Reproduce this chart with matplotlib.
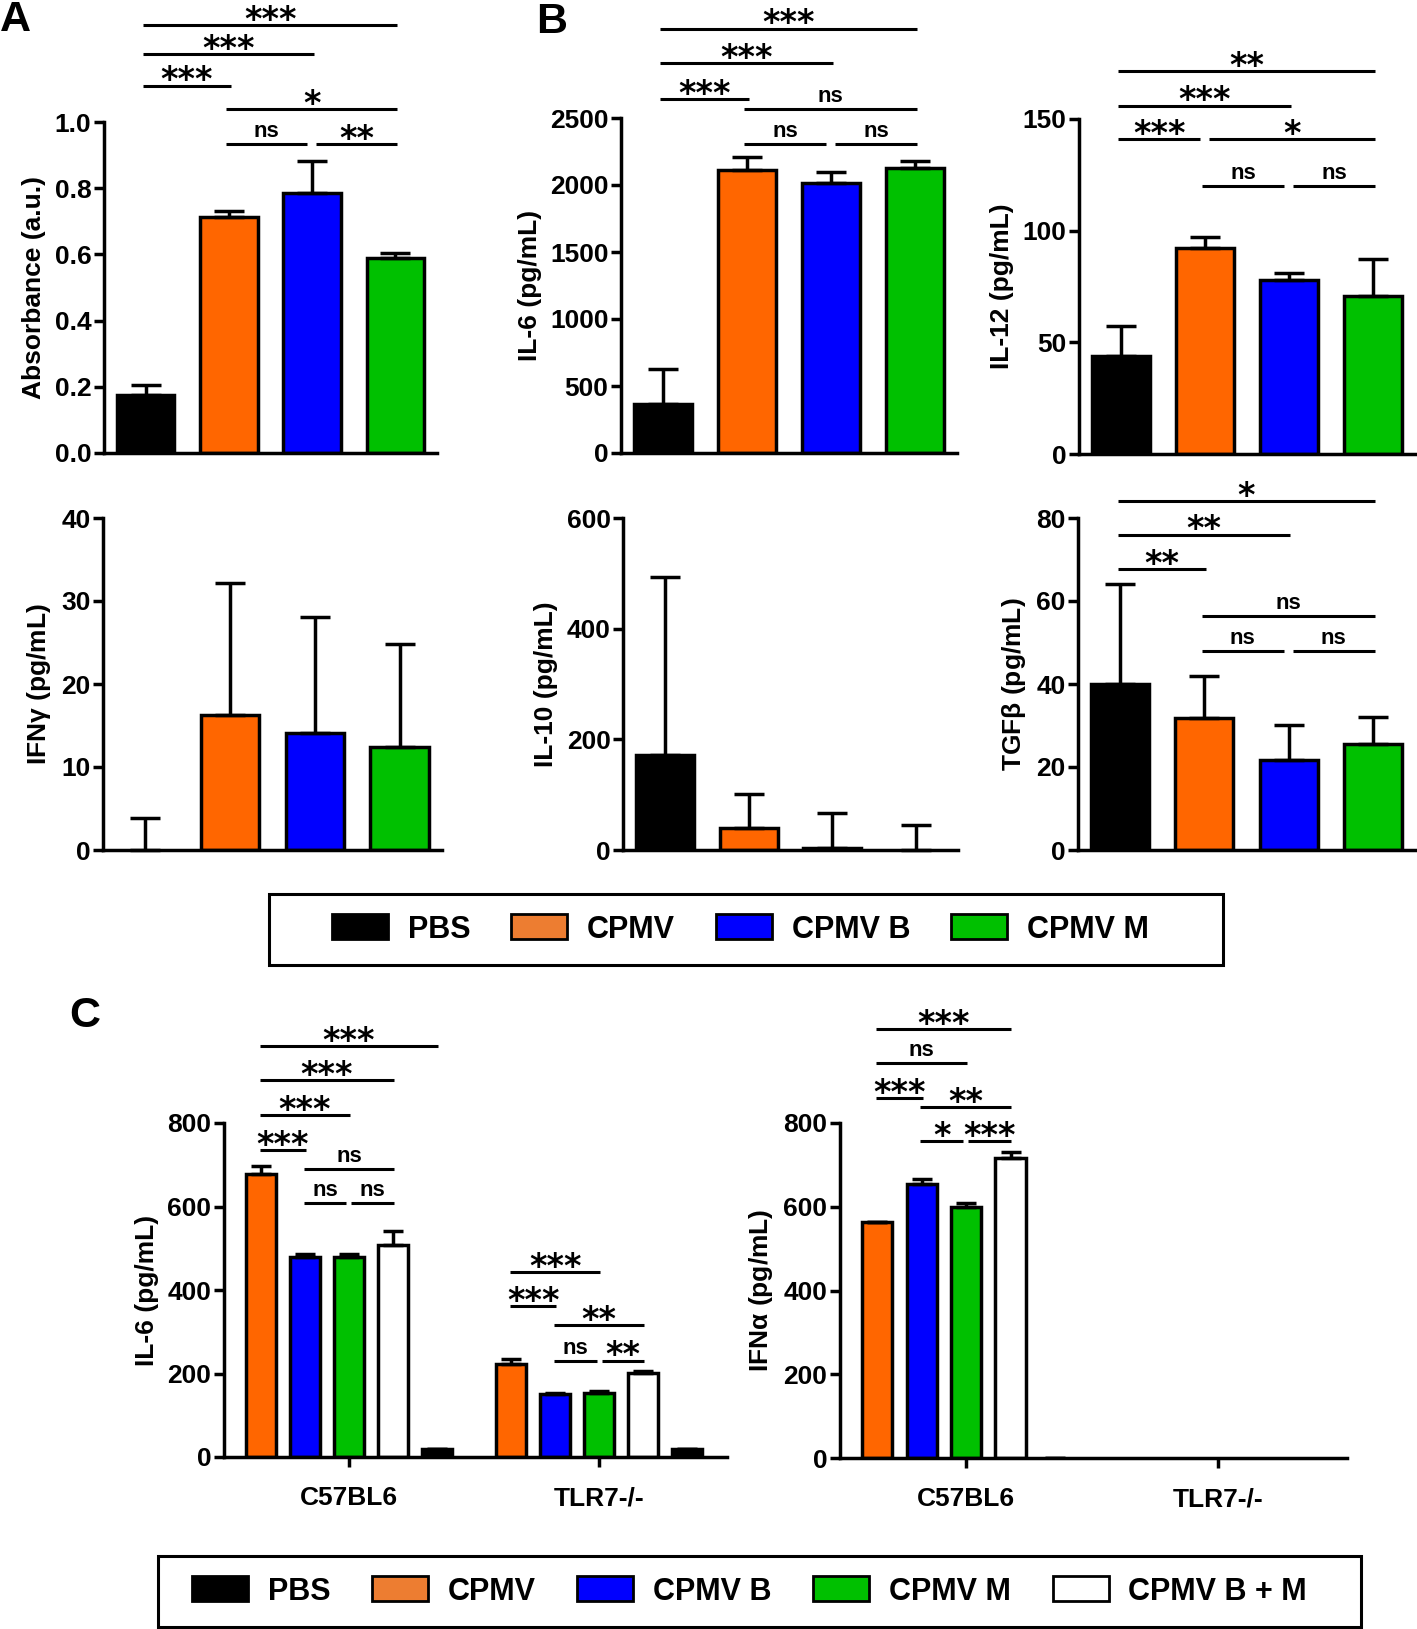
import numpy as np
import matplotlib
matplotlib.use("Agg")
from matplotlib import pyplot as plt
from matplotlib.patches import Patch, Rectangle

plt.rcParams["font.family"] = ["Liberation Sans", "DejaVu Sans"]
plt.rcParams["font.weight"] = "bold"
plt.rcParams["axes.labelweight"] = "bold"
plt.rcParams["mathtext.fontset"] = "custom"
plt.rcParams["mathtext.rm"] = "Liberation Sans"

W, H = 1417, 1629

# groups and colours
groups = ["PBS", "CPMV", "CPMV B", "CPMV M"]
bar_colors = ["#000000", "#FF6600", "#0000FF", "#00C000"]
legend_colors = ["#000000", "#ED7D31", "#0000FF", "#00C000", "#FFFFFF"]
groups_c = ["CPMV", "CPMV B", "CPMV M", "CPMV B + M", "PBS"]
colors_c = ["#FF6600", "#0000FF", "#00C000", "#FFFFFF", "#000000"]
mice = ["C57BL6", "TLR7-/-"]

# panel A
absorbance = [0.174, 0.714, 0.786, 0.588]
absorbance_err = [0.030, 0.018, 0.097, 0.016]
# panel B
il6 = [368, 2114, 2015, 2127]
il6_err = [261, 95, 82, 55]
il12 = [43.7, 92.2, 77.8, 70.6]
il12_err = [13.8, 5.0, 3.2, 16.7]
ifng = [0.0, 16.3, 14.1, 12.4]
ifng_err = [3.9, 15.9, 14.0, 12.4]
il10 = [171, 40, 4, 0]
il10_err = [322, 61, 63, 45]
tgfb = [39.9, 31.7, 21.7, 25.5]
tgfb_err = [24.2, 10.2, 8.4, 6.6]
# panel C (rows: C57BL6, TLR7-/-; columns follow groups_c)
il6_c = [[678, 478, 478, 508, 18], [223, 151, 153, 201, 18]]
il6_c_err = [[18, 8, 8, 33, 1], [12, 2, 4, 4, 1]]
ifna_c = [[563, 654, 600, 716, 0], [0, 0, 0, 0, 0]]
ifna_c_err = [[1, 12, 9, 14, 0], [0, 0, 0, 0, 0]]

# significance brackets: (bar i, bar j, height, label)
sig_absorbance = [(0, 3, 1.294, "***"), (0, 2, 1.205, "***"), (0, 1, 1.110, "***"),
                  (1, 3, 1.039, "*"), (1, 2, 0.934, "ns"), (2, 3, 0.934, "**")]
sig_il6 = [(0, 3, 3167, "***"), (0, 2, 2910, "***"), (0, 1, 2644, "***"),
           (1, 3, 2567, "ns"), (1, 2, 2306, "ns"), (2, 3, 2306, "ns")]
sig_il12 = [(0, 3, 171.6, "**"), (0, 2, 156.0, "***"), (0, 1, 141.0, "***"),
            (1, 3, 141.0, "*"), (1, 2, 119.9, "ns"), (2, 3, 119.9, "ns")]
sig_tgfb = [(0, 3, 84.1, "*"), (0, 2, 76.0, "**"), (0, 1, 67.7, "**"),
            (1, 3, 56.4, "ns"), (1, 2, 48.0, "ns"), (2, 3, 48.0, "ns")]
sig_il6_wt = [(0, 4, 984, "***"), (0, 3, 902, "***"), (0, 2, 818, "***"), (0, 1, 736, "***"),
              (1, 3, 690, "ns"), (1, 2, 608, "ns"), (2, 3, 608, "ns")]
sig_il6_ko = [(0, 2, 442, "***"), (0, 1, 361, "***"), (1, 3, 315, "**"),
              (1, 2, 231, "ns"), (2, 3, 231, "**")]
sig_ifna_wt = [(0, 3, 1025, "***"), (0, 2, 943, "ns"), (0, 1, 860, "***"),
               (1, 3, 838, "**"), (1, 2, 756, "*"), (2, 3, 756, "***")]

LW = 2.5


def add_axes(x0, y0, x1, y1):
    # pixel box of the plotting area -> figure fraction
    return fig.add_axes([x0 / W, 1 - y1 / H, (x1 - x0) / W, (y1 - y0) / H])


def style_axes(ax):
    ax.spines[["top", "right"]].set_visible(False)
    for s in ["left", "bottom"]:
        ax.spines[s].set_linewidth(LW)
    ax.tick_params(axis="y", direction="out", length=7, width=LW, labelsize=19, pad=2)
    ax.tick_params(axis="x", direction="out", length=7, width=LW, labelsize=19, pad=14)


def brackets(ax, xs, rows, unit):
    for i, j, y, label in rows:
        shared_start = any(r[1] == i and r[2] == y for r in rows)
        shared_end = any(r[0] == j and r[2] == y for r in rows)
        x0 = xs[i] + (0.05 if shared_start else -0.03) * unit
        x1 = xs[j] + (-0.06 if shared_end else 0.02) * unit
        ax.plot([x0, x1], [y, y], color="k", lw=2.2, clip_on=False,
                solid_capstyle="butt")
        if label == "ns":
            ax.annotate(label, ((x0 + x1) / 2, y), xytext=(0, 5),
                        textcoords="offset points", ha="center", va="baseline",
                        fontsize=16, fontweight="bold", annotation_clip=False)
        else:
            ax.annotate(label, ((x0 + x1) / 2, y), xytext=(0, -3.5),
                        textcoords="offset points", ha="center", va="baseline",
                        fontsize=24, fontweight="bold", family="DejaVu Sans",
                        annotation_clip=False)


def edge_widths(values):
    # bars of zero height get no outline
    return [LW if v > 0 else 0 for v in values]


def bar_panel(ax, values, errs, ylabel, ymax, ystep, sig=None, fmt="{:.0f}"):
    x = np.arange(len(values))
    ax.bar(x, values, width=0.69, color=bar_colors, edgecolor="k",
           linewidth=edge_widths(values), zorder=2)
    ax.errorbar(x, values, yerr=[np.zeros(len(errs)), errs], fmt="none", ecolor="k",
                elinewidth=LW, capsize=11, capthick=LW, zorder=3, clip_on=False)
    if sig:
        brackets(ax, x, sig, 1.0)
    style_axes(ax)
    ax.set_xticks([])
    ticks = np.arange(0, ymax + ystep / 2, ystep)
    ax.set_yticks(ticks)
    ax.set_yticklabels([fmt.format(t) for t in ticks])
    ax.set_xlim(-0.5, 3.5)
    ax.set_ylim(0, ymax)
    ax.set_ylabel(ylabel, fontsize=19, labelpad=6)


def grouped_panel(ax, values, errs, ylabel, sigs):
    offsets = (np.arange(5) - 2) * 0.176
    for g in range(len(mice)):
        xs = g + offsets
        if max(values[g]) > 0:
            ax.bar(xs, values[g], width=0.12, color=colors_c, edgecolor="k",
                   linewidth=edge_widths(values[g]), zorder=2)
            ax.errorbar(xs, values[g], yerr=[np.zeros(5), errs[g]], fmt="none",
                        ecolor="k", elinewidth=LW, capsize=7.5, capthick=LW, zorder=3)
        if sigs[g]:
            brackets(ax, xs, sigs[g], 0.176)
    style_axes(ax)
    ax.set_xticks(range(len(mice)))
    ax.set_xticklabels(mice)
    ax.set_yticks(np.arange(0, 801, 200))
    ax.set_xlim(-0.5, 1.51)
    ax.set_ylim(0, 800)
    ax.set_ylabel(ylabel, fontsize=19, labelpad=6)


fig = plt.figure(figsize=(W / 100, H / 100), dpi=100)

ax = add_axes(104, 122, 437, 453)
bar_panel(ax, absorbance, absorbance_err, "Absorbance (a.u.)", 1.0, 0.2, sig_absorbance, "{:.1f}")
ax = add_axes(621, 118, 957, 453)
bar_panel(ax, il6, il6_err, "IL-6 (pg/mL)", 2500, 500, sig_il6)
ax = add_axes(1079, 119, 1415, 454)
bar_panel(ax, il12, il12_err, "IL-12 (pg/mL)", 150, 50, sig_il12)
ax = add_axes(103, 518, 442, 850)
bar_panel(ax, ifng, ifng_err, r"IFN$\mathrm{\gamma}$ (pg/mL)", 40, 10)
ax = add_axes(623, 518, 958, 850)
bar_panel(ax, il10, il10_err, "IL-10 (pg/mL)", 600, 200)
ax = add_axes(1078, 518, 1415, 850)
bar_panel(ax, tgfb, tgfb_err, r"TGF$\mathrm{\beta}$ (pg/mL)", 80, 20, sig_tgfb)

ax = add_axes(224, 1123, 727, 1457)
grouped_panel(ax, il6_c, il6_c_err, "IL-6 (pg/mL)", [sig_il6_wt, sig_il6_ko])
ax = add_axes(840, 1123, 1347, 1458)
grouped_panel(ax, ifna_c, ifna_c_err, r"IFN$\mathrm{\alpha}$ (pg/mL)", [sig_ifna_wt, None])

# panel letters
fig.text(0.0, 1.0, "A", fontsize=31, fontweight="bold", ha="left", va="top")
fig.text(536 / W, 1 - 2 / H, "B", fontsize=31, fontweight="bold", ha="left", va="top")
fig.text(69 / W, 1 - 996 / H, "C", fontsize=31, fontweight="bold", ha="left", va="top")

# legends
def legend_box(names, colors, box, inner):
    x0, y0, x1, y1 = box
    fig.add_artist(Rectangle((x0 / W, 1 - y1 / H), (x1 - x0) / W, (y1 - y0) / H,
                             transform=fig.transFigure, fill=False, edgecolor="k",
                             linewidth=2.2))
    handles = [Patch(facecolor=c, edgecolor="k", linewidth=2) for c in colors]
    ix0, ix1 = inner
    fig.legend(handles, names, loc="center", ncol=len(names), mode="expand",
               bbox_to_anchor=(ix0 / W, 1 - y1 / H, (ix1 - ix0) / W, (y1 - y0) / H),
               frameon=False, borderpad=0, borderaxespad=0, handlelength=1.83,
               handleheight=0.88, handletextpad=0.65,
               prop={"size": 22, "weight": "bold"})


legend_box(groups, legend_colors[:4], (269, 894, 1223, 965), (332, 1149))
legend_box(["PBS", "CPMV", "CPMV B", "CPMV M", "CPMV B + M"], legend_colors,
           (158, 1556, 1361, 1627), (192, 1307))

fig.savefig("out.png", dpi=100)
